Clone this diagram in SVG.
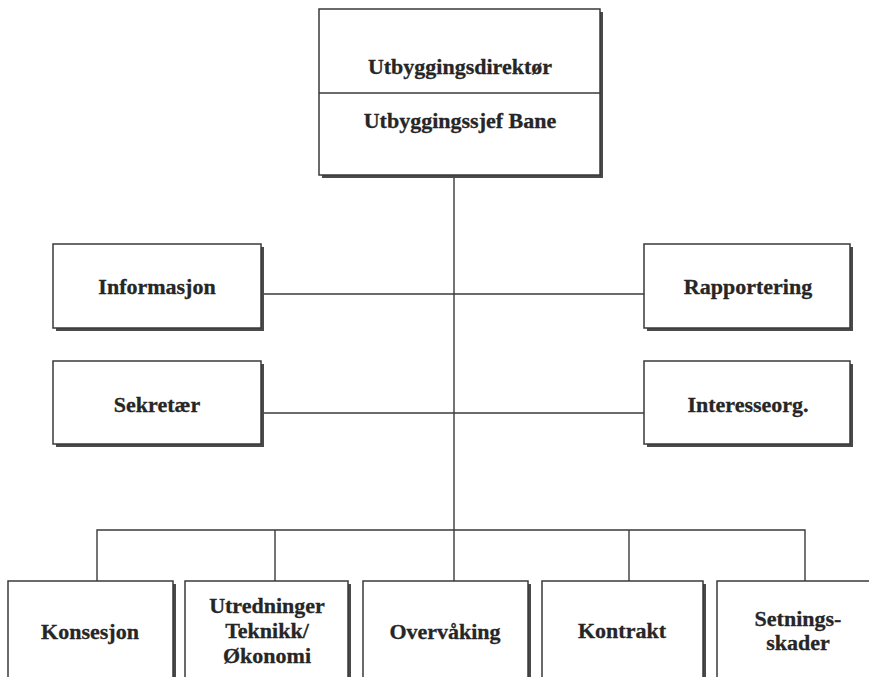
<svg xmlns="http://www.w3.org/2000/svg" width="869" height="677" viewBox="0 0 869 677">
  <style>
    .box { fill: #ffffff; stroke: #3a3a3a; stroke-width: 1.5; }
    .shadow { fill: #4a4a4a; }
    .lbl { font-family: "Liberation Serif", "Times New Roman", serif; font-weight: bold; font-size: 22px; fill: #262626; stroke: #262626; stroke-width: 0.3; text-anchor: middle; }
    .wire { stroke: #3a3a3a; stroke-width: 1.4; fill: none; }
  </style>
  <rect width="869" height="677" fill="#ffffff"/>

  <!-- connectors -->
  <g id="connectors">
    <line class="wire" x1="454" y1="175" x2="454" y2="530"/>
    <line class="wire" x1="262" y1="294" x2="644" y2="294"/>
    <line class="wire" x1="262" y1="413" x2="644" y2="413"/>
    <polyline class="wire" points="97,581 97,530 805,530 805,581"/>
    <line class="wire" x1="275" y1="530" x2="275" y2="581"/>
    <line class="wire" x1="454" y1="530" x2="454" y2="581"/>
    <line class="wire" x1="629" y1="530" x2="629" y2="581"/>
  </g>

  <!-- top management box -->
  <g id="ledelse">
    <rect class="shadow" x="322" y="12" width="281" height="166"/>
    <rect class="box" x="319" y="9" width="281" height="166"/>
    <line class="wire" x1="319" y1="93" x2="600" y2="93"/>
    <text class="lbl" x="460" y="74" font-size="21">Utbyggingsdirektør</text>
    <text class="lbl" x="460" y="128" font-size="21">Utbyggingssjef Bane</text>
  </g>

  <g id="informasjon">
    <rect class="shadow" x="56" y="247" width="208" height="84"/>
    <rect class="box" x="53" y="244" width="208" height="84"/>
    <text class="lbl" x="157" y="294">Informasjon</text>
  </g>

  <g id="rapportering">
    <rect class="shadow" x="647" y="247" width="206" height="84"/>
    <rect class="box" x="644" y="244" width="206" height="84"/>
    <text class="lbl" x="748" y="294">Rapportering</text>
  </g>

  <g id="sekretaer">
    <rect class="shadow" x="56" y="364" width="208" height="83"/>
    <rect class="box" x="53" y="361" width="208" height="83"/>
    <text class="lbl" x="157" y="412">Sekretær</text>
  </g>

  <g id="interesseorg">
    <rect class="shadow" x="647" y="364" width="206" height="83"/>
    <rect class="box" x="644" y="361" width="206" height="83"/>
    <text class="lbl" x="748" y="412">Interesseorg.</text>
  </g>

  <g id="konsesjon">
    <rect class="shadow" x="11" y="584" width="165" height="100"/>
    <rect class="box" x="8" y="581" width="165" height="100"/>
    <text class="lbl" x="90" y="639">Konsesjon</text>
  </g>

  <g id="utredninger">
    <rect class="shadow" x="188" y="584" width="163" height="100"/>
    <rect class="box" x="185" y="581" width="163" height="100"/>
    <text class="lbl" x="267" y="613">Utredninger</text>
    <text class="lbl" x="267" y="638">Teknikk/</text>
    <text class="lbl" x="267" y="663">Økonomi</text>
  </g>

  <g id="overvaking">
    <rect class="shadow" x="366" y="584" width="165" height="100"/>
    <rect class="box" x="363" y="581" width="165" height="100"/>
    <text class="lbl" x="445" y="639">Overvåking</text>
  </g>

  <g id="kontrakt">
    <rect class="shadow" x="545" y="584" width="161" height="100"/>
    <rect class="box" x="542" y="581" width="161" height="100"/>
    <text class="lbl" x="622" y="638">Kontrakt</text>
  </g>

  <g id="setningsskader">
    <rect class="box" x="717" y="581" width="160" height="100"/>
    <text class="lbl" x="798" y="626">Setnings-</text>
    <text class="lbl" x="798" y="650">skader</text>
  </g>
</svg>
